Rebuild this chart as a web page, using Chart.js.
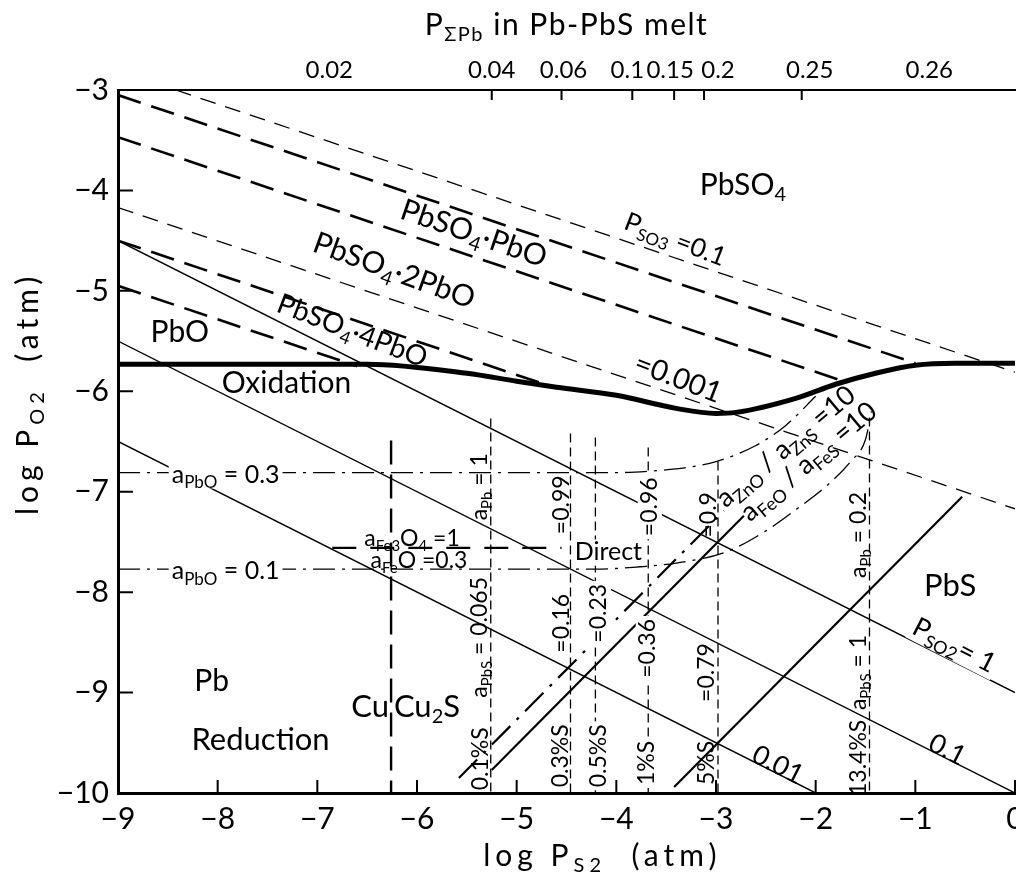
<!DOCTYPE html>
<html>
<head>
<meta charset="utf-8">
<script src="https://cdn.jsdelivr.net/npm/chart.js@4.4.1/dist/chart.umd.min.js"></script>
<style>
html, body { margin: 0; padding: 0; background: #fff; }
</style>
</head>
<body>
<canvas id="myChart" width="1016" height="878"></canvas>
<script>
var FONT = 'Lato, "DejaVu Sans", sans-serif';

// axes
var xTicks = [-9, -8, -7, -6, -5, -4, -3, -2, -1, 0];
var yTicks = [-3, -4, -5, -6, -7, -8, -9, -10];
var topLabelPos = [-6.88, -5.25, -4.53, -3.89, -3.46, -2.98, -2.06, -0.86];
var topLabels = ['0.02', '0.04', '0.06', '0.1', '0.15', '0.2', '0.25', '0.26'];
var topMarkPos = [-5.25, -4.55, -3.84, -3.42, -3.12, -2.14];

// Pb-PbS melt oxidation boundary
var meltLine = [[-9, -5.73], [-6.5, -5.73], [-5.5, -5.82], [-5, -5.9], [-4.6, -5.96], [-4, -6.04],
  [-3.4, -6.17], [-3, -6.22], [-2.8, -6.21], [-2.2, -6.07], [-1.8, -5.93], [-1.4, -5.82],
  [-1, -5.74], [-0.6, -5.72], [0, -5.72]];

// lead sulphate boundaries
var sulphate1 = [[-9, -3.05], [-1.0, -5.72]];
var sulphate2 = [[-9, -3.47], [-1.75, -5.89]];
var sulphate3 = [[-9, -4.5], [-4.75, -5.92]];
var sulphate4 = [[-9, -4.95], [-6.6, -5.75]];

// P_SO3 isobars
var so3_01 = [[-8.42, -3], [0, -5.81]];
var so3_0001 = [[-9, -4.17], [0, -7.17]];

// P_SO2 isobars
var so2_1 = [[-9, -4.5], [0, -9]];
var so2_01 = [[-9, -5.5], [0, -10]];
var so2_001 = [[-9, -6.5], [-2, -10]];

// slope +1 lines
var znLine = [[-5.58, -9.85], [-2.92, -7.19]];
var feLine = [[-5.25, -9.77], [-2.72, -7.24]];
var diag3 = [[-3.42, -9.94], [-0.53, -7.05]];

// a_Pb / a_PbS / %S verticals
var cuLine = [[-6.26, -6.49], [-6.26, -10]];
var vPb1 = [[-5.26, -6.27], [-5.26, -10]];
var vPb099 = [[-4.46, -6.42], [-4.46, -10]];
var vPb023 = [[-4.21, -6.46], [-4.21, -10]];
var vPb096 = [[-3.68, -6.56], [-3.68, -10]];
var vPb09 = [[-2.98, -6.7], [-2.98, -10]];
var vPb02 = [[-1.46, -6.26], [-1.46, -10]];

// Fe3O4/FeO
var feOxLine = [[-6.85, -7.56], [-4.55, -7.56]];

// a_PbO isolines
var pbo03 = [[-9, -6.81], [-4, -6.81], [-3.6, -6.79], [-3.3, -6.76], [-3, -6.7], [-2.6, -6.54], [-2.3, -6.34], [-2, -6.05]];
var pbo01 = [[-9, -7.77], [-4.2, -7.77], [-3.8, -7.75], [-3.4, -7.71], [-2.9, -7.6], [-2.5, -7.39],
  [-2.2, -7.18], [-1.9, -6.95], [-1.65, -6.7], [-1.5, -6.48], [-1.44, -6.2]];

// labels: text, x, y, rotation (deg), size, white background
var labels = [
  ['PbSO_{4}', -2.73, -3.95, 0, 30, false],
  ['PbSO_{4}·PbO', -5.43, -4.43, 19, 30, false],
  ['PbSO_{4}·2PbO', -6.23, -4.8, 20, 30, false],
  ['PbSO_{4}·4PbO', -6.65, -5.4, 21, 28, false],
  ['PbO', -8.38, -5.41, 0, 30, false],
  ['Oxidation', -7.31, -5.92, 0, 30, false],
  ['P_{SO3} =0.1', -3.41, -4.49, 21, 26, false],
  ['=0.001', -3.38, -5.87, 21, 29, false],
  ['a_{PbO} = 0.3', -7.92, -6.83, 0, 25, true],
  ['a_{PbO} = 0.1', -7.92, -7.79, 0, 25, true],
  ['a_{Fe3}O_{4} =1', -6.05, -7.47, 0, 23, false],
  ['a_{Fe}O =0.3', -5.98, -7.69, 0, 23, false],
  ['Direct', -4.08, -7.6, 0, 25, true],
  ['Pb', -8.06, -8.89, 0, 30, false],
  ['Reduction', -7.57, -9.47, 0, 31, false],
  ['Cu', -6.47, -9.14, 0, 31, false],
  ['Cu_{2}S', -5.9, -9.14, 0, 31, false],
  ['PbS', -0.65, -7.94, 0, 31, false],
  ['P_{SO2}= 1', -0.61, -8.53, 27, 27, true],
  ['0.1', -0.68, -9.57, 27, 27, false],
  ['0.01', -2.38, -9.72, 27, 27, false],
  ['a_{Pb} = 1', -5.37, -6.95, -90, 23, false],
  ['a_{PbS} = 0.065', -5.37, -8.45, -90, 23, false],
  ['0.1%S', -5.36, -9.66, -90, 23, false],
  ['=0.99', -4.55, -7.13, -90, 23, false],
  ['=0.16', -4.55, -8.31, -90, 23, false],
  ['0.3%S', -4.56, -9.63, -90, 23, false],
  ['=0.23', -4.18, -8.21, -90, 23, true],
  ['0.5%S', -4.18, -9.63, -90, 23, true],
  ['=0.96', -3.67, -7.15, -90, 23, true],
  ['=0.36', -3.69, -8.56, -90, 23, true],
  ['1%S', -3.7, -9.7, -90, 23, true],
  ['=0.9', -3.07, -7.23, -90, 23, false],
  ['=0.79', -3.09, -8.8, -90, 23, false],
  ['5%S', -3.09, -9.7, -90, 23, false],
  ['a_{Pb} = 0.2', -1.57, -7.43, -90, 23, false],
  ['a_{PbS} = 1', -1.57, -8.8, -90, 23, false],
  ['13.4%S', -1.57, -9.65, -90, 23, false],
  ['a_{ZnO} / a_{ZnS} =10', -2.3, -6.55, -40, 27, false],
  ['a_{FeO} / a_{FeS} =10', -2.07, -6.7, -40, 27, false]
];

function pts(arr) {
  return arr.map(function(p) { return {x: p[0], y: p[1]}; });
}

function line(arr, width, dash, smooth) {
  return {
    data: pts(arr),
    showLine: true,
    borderColor: '#000',
    borderWidth: width,
    borderDash: dash || [],
    pointRadius: 0,
    fill: false,
    cubicInterpolationMode: smooth ? 'monotone' : 'default'
  };
}

var heavyDash = [24, 11];
var thinDash = [16, 10];
var vDash = [9, 5];
var dashDot = [22, 7, 3, 7];

var datasets = [
  line(meltLine, 5, null, true),
  line(sulphate1, 2.6, heavyDash),
  line(sulphate2, 2.6, heavyDash),
  line(sulphate3, 2.6, heavyDash),
  line(sulphate4, 2.6, heavyDash),
  line(so3_01, 1.3, thinDash),
  line(so3_0001, 1.3, thinDash),
  line(so2_1, 1.4),
  line(so2_01, 1.4),
  line(so2_001, 1.4),
  line(znLine, 2.2, [26, 9, 3, 9]),
  line(feLine, 2.2),
  line(diag3, 2.2),
  line(cuLine, 2.4, [24, 10]),
  line(vPb1, 1.3, vDash),
  line(vPb099, 1.3, vDash),
  line(vPb023, 1.3, vDash),
  line(vPb096, 1.3, vDash),
  line(vPb09, 1.3, vDash),
  line(vPb02, 1.3, vDash),
  line(feOxLine, 2.2, [24, 14]),
  line(pbo03, 1.3, dashDot, true),
  line(pbo01, 1.3, dashDot, true)
];

function segsOf(str) {
  var out = [], re = /_\{([^}]*)\}/g, last = 0, m;
  while ((m = re.exec(str))) {
    if (m.index > last) out.push({t: str.slice(last, m.index), sub: false});
    out.push({t: m[1], sub: true});
    last = re.lastIndex;
  }
  if (last < str.length) out.push({t: str.slice(last), sub: false});
  return out;
}

function drawRich(ctx, str, size, bg, spacing) {
  var segs = segsOf(str), w = 0;
  ctx.letterSpacing = (spacing || 0) + 'px';
  segs.forEach(function(s) {
    s.size = s.sub ? Math.round(size * 0.66) : size;
    ctx.font = s.size + 'px ' + FONT;
    s.w = ctx.measureText(s.t).width;
    w += s.w;
  });
  if (bg) {
    ctx.fillStyle = '#fff';
    ctx.fillRect(-w / 2 - 3, -size * 0.5, w + 6, size * 1.05);
  }
  ctx.fillStyle = '#000';
  ctx.textBaseline = 'middle';
  ctx.textAlign = 'left';
  var x = -w / 2;
  segs.forEach(function(s) {
    ctx.font = s.size + 'px ' + FONT;
    ctx.fillText(s.t, x, s.sub ? size * 0.32 : 0);
    x += s.w;
  });
  ctx.letterSpacing = '0px';
}

var textPlugin = {
  id: 'textPlugin',
  afterDatasetsDraw: function(chart) {
    var ctx = chart.ctx, sx = chart.scales.x, sy = chart.scales.y, a = chart.chartArea;
    ctx.save();
    // inside tick marks
    ctx.strokeStyle = '#000';
    ctx.lineWidth = 2;
    ctx.beginPath();
    xTicks.forEach(function(v) {
      var px = sx.getPixelForValue(v);
      ctx.moveTo(px, a.bottom);
      ctx.lineTo(px, a.bottom - 13);
    });
    yTicks.forEach(function(v) {
      var py = sy.getPixelForValue(v);
      ctx.moveTo(a.left, py);
      ctx.lineTo(a.left + 15, py);
    });
    topMarkPos.forEach(function(v) {
      var px = sx.getPixelForValue(v);
      ctx.moveTo(px, a.top);
      ctx.lineTo(px, a.top + 10);
    });
    ctx.stroke();

    labels.forEach(function(l) {
      ctx.save();
      ctx.translate(sx.getPixelForValue(l[1]), sy.getPixelForValue(l[2]));
      ctx.rotate(l[3] * Math.PI / 180);
      drawRich(ctx, l[0], l[4], l[5]);
      ctx.restore();
    });

    // axis titles
    ctx.save();
    ctx.translate(sx.getPixelForValue(-4.5), 25);
    drawRich(ctx, 'P_{ΣPb} in Pb-PbS melt', 30, false, 1.5);
    ctx.restore();

    ctx.save();
    ctx.translate(sx.getPixelForValue(-4.14), 856);
    drawRich(ctx, 'log P_{S2}  (atm)', 30, false, 5);
    ctx.restore();

    ctx.save();
    ctx.translate(28, sy.getPixelForValue(-6.02));
    ctx.rotate(-Math.PI / 2);
    drawRich(ctx, 'log P_{O2}  (atm)', 30, false, 5);
    ctx.restore();

    ctx.restore();
  }
};

function minus(v) {
  return v < 0 ? '\u2212' + Math.abs(v) : String(v);
}

var ctx = document.getElementById('myChart').getContext('2d');
var myChart = new Chart(ctx, {
  type: 'scatter',
  data: { datasets: datasets },
  options: {
    responsive: false,
    animation: false,
    devicePixelRatio: 1,
    layout: { padding: { left: 0, right: 1, top: 0, bottom: 0 } },
    plugins: { legend: { display: false }, tooltip: { enabled: false } },
    scales: {
      x: {
        type: 'linear',
        position: 'bottom',
        min: -9,
        max: 0,
        afterBuildTicks: function(s) { s.ticks = xTicks.map(function(v) { return {value: v}; }); },
        afterFit: function(s) { s.height = 85; s.paddingLeft = 0; s.paddingRight = 0; },
        grid: { drawOnChartArea: false, drawTicks: false },
        border: { display: true, color: '#000', width: 3 },
        ticks: {
          color: '#000',
          font: { family: FONT, size: 30 },
          padding: 8,
          maxRotation: 0,
          autoSkip: false,
          callback: function(v) { return minus(v); }
        }
      },
      x2: {
        type: 'linear',
        position: 'top',
        min: -9,
        max: 0,
        afterBuildTicks: function(s) { s.ticks = topLabelPos.map(function(v) { return {value: v}; }); },
        afterFit: function(s) { s.height = 90; s.paddingLeft = 0; s.paddingRight = 0; },
        grid: { drawOnChartArea: false, drawTicks: false },
        border: { display: true, color: '#000', width: 2 },
        ticks: {
          color: '#000',
          font: { family: FONT, size: 24 },
          padding: 5,
          maxRotation: 0,
          autoSkip: false,
          callback: function(v, i) { return topLabels[i]; }
        }
      },
      y: {
        type: 'linear',
        min: -10,
        max: -3,
        afterBuildTicks: function(s) { s.ticks = yTicks.map(function(v) { return {value: v}; }); },
        afterFit: function(s) { s.width = 118; s.paddingTop = 0; s.paddingBottom = 0; },
        grid: { drawOnChartArea: false, drawTicks: false },
        border: { display: true, color: '#000', width: 3 },
        ticks: {
          color: '#000',
          font: { family: FONT, size: 30 },
          padding: 9,
          autoSkip: false,
          callback: function(v) { return minus(v); }
        }
      }
    }
  },
  plugins: [textPlugin]
});
</script>
</body>
</html>
